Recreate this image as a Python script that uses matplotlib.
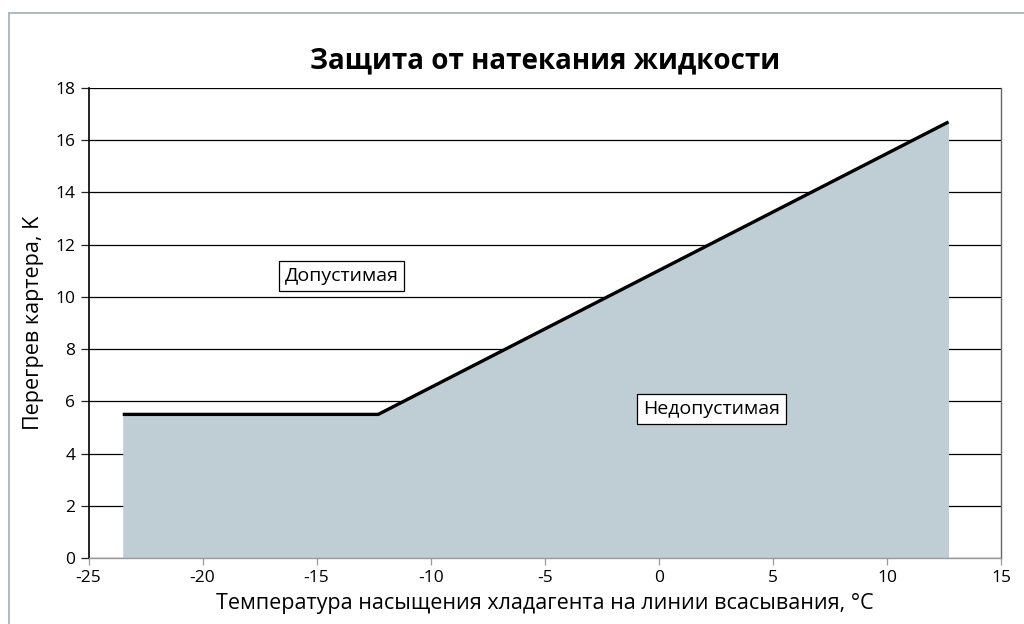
import matplotlib.pyplot as plt
from matplotlib.lines import Line2D

plt.rcParams['font.family'] = ['Open Sans', 'DejaVu Sans']
plt.rcParams['axes.unicode_minus'] = False

# boundary of the liquid floodback protection zone
temp_c = [-23.5, -12.3, 12.7]
superheat_k = [5.5, 5.5, 16.7]

x_ticks = [-25, -20, -15, -10, -5, 0, 5, 10, 15]
y_ticks = [0, 2, 4, 6, 8, 10, 12, 14, 16, 18]

title = 'Защита от натекания жидкости'
x_label = 'Температура насыщения хладагента на линии всасывания, °C'
y_label = 'Перегрев картера, K'
ok_label = 'Допустимая'
bad_label = 'Недопустимая'

fig = plt.figure(figsize=(10.24, 6.24), dpi=100)
ax = fig.add_axes([88.5 / 1024, 1 - 558 / 624, 912.5 / 1024, 470 / 624])

ax.set_axisbelow(True)
ax.grid(axis='y', color='black', linewidth=0.9)
ax.fill_between(temp_c, 0, superheat_k, color='#bfcdd4', linewidth=0, zorder=2)
ax.plot(temp_c, superheat_k, color='black', linewidth=2.4, solid_capstyle='butt', zorder=3)

ax.set_xlim(-25, 15)
ax.set_ylim(0, 18)
ax.set_xticks(x_ticks)
ax.set_yticks(y_ticks)
ax.tick_params(labelsize=12.5, length=6, width=0.9, colors='#222222', labelcolor='black')
ax.tick_params(axis='x', length=5, colors='#999999', labelcolor='black')

ax.spines['top'].set_visible(False)
ax.spines['left'].set_color('black')
ax.spines['left'].set_linewidth(1.2)
ax.spines['right'].set_color('#666666')
ax.spines['right'].set_linewidth(1.0)
ax.spines['bottom'].set_color('#999999')
ax.spines['bottom'].set_linewidth(1.0)

ax.set_title(title, fontsize=20, fontweight='bold', pad=14)
ax.set_xlabel(x_label, fontsize=15.5, labelpad=5)
ax.set_ylabel(y_label, fontsize=15.5, labelpad=8)

box = dict(boxstyle='square,pad=0.3', facecolor='white', edgecolor='black', linewidth=0.9)
ax.text(-13.9, 10.8, ok_label, fontsize=14, ha='center', va='center', bbox=box, zorder=4)
ax.text(2.3, 5.7, bad_label, fontsize=14, ha='center', va='center', bbox=box, zorder=4)

# outer frame of the figure (left and top edges are visible)
fig.add_artist(Line2D([9 / 1024, 9 / 1024], [0, 1 - 13 / 624], color='#a8b4bc', linewidth=1.3))
fig.add_artist(Line2D([9 / 1024, 1], [1 - 13 / 624, 1 - 13 / 624], color='#a8b4bc', linewidth=1.3))

fig.savefig('out.png', dpi=100)
